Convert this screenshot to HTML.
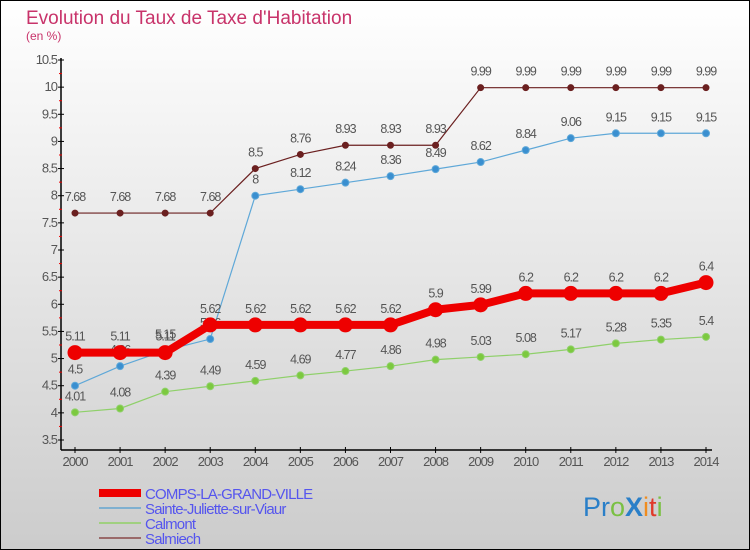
<!DOCTYPE html>
<html><head><meta charset="utf-8"><style>
body{margin:0;width:750px;height:550px;overflow:hidden;font-family:"Liberation Sans",sans-serif}
svg{display:block}
</style></head><body>
<svg id="c" width="750" height="550">
<defs><linearGradient id="bg" x1="0" y1="0" x2="0" y2="1"><stop offset="0" stop-color="#ffffff"/><stop offset="1" stop-color="#cccccc"/></linearGradient></defs>
<rect x="0.5" y="0.5" width="749" height="549" fill="url(#bg)" stroke="#000"/>
<text x="26" y="24" font-size="19" fill="#c8336a">Evolution du Taux de Taxe d'Habitation</text>
<text x="26" y="40" font-size="12" fill="#c8336a">(en %)</text>
<g id="axes"></g>
<g id="series"></g>
<g id="legend"></g>
<text x="583" y="516" font-size="27"><tspan fill="#2a7fc8">Pr</tspan><tspan fill="#7ac043">o</tspan><tspan fill="#2a7fc8" font-weight="bold">X</tspan><tspan fill="#f08c1e">i</tspan><tspan fill="#e03a2a">t</tspan><tspan fill="#7ac043">i</tspan></text>
</svg>
<script>
const years=[2000,2001,2002,2003,2004,2005,2006,2007,2008,2009,2010,2011,2012,2013,2014];
const comps=[5.11,5.11,5.11,5.62,5.62,5.62,5.62,5.62,5.9,5.99,6.2,6.2,6.2,6.2,6.4];
const sainte=[4.5,4.86,5.15,5.36,8,8.12,8.24,8.36,8.49,8.62,8.84,9.06,9.15,9.15,9.15];
const calmont=[4.01,4.08,4.39,4.49,4.59,4.69,4.77,4.86,4.98,5.03,5.08,5.17,5.28,5.35,5.4];
const salmiech=[7.68,7.68,7.68,7.68,8.5,8.76,8.93,8.93,8.93,9.99,9.99,9.99,9.99,9.99,9.99];
const yTicks=[3.5,4,4.5,5,5.5,6,6.5,7,7.5,8,8.5,9,9.5,10,10.5];
const seriesNames=["COMPS-LA-GRAND-VILLE","Sainte-Juliette-sur-Viaur","Calmont","Salmiech"];
const NS="http://www.w3.org/2000/svg";
const X=i=>75+i*(706-75)/(years.length-1);
const Y=v=>440-(v-3.5)*(380/7);
function mk(tag,attrs,parent,txt){const e=document.createElementNS(NS,tag);for(const k in attrs)e.setAttribute(k,attrs[k]);if(txt!==undefined)e.textContent=txt;parent.appendChild(e);return e;}
const ax=document.getElementById('axes');
let yl=mk('line',{x1:61,y1:58,x2:61,y2:450,stroke:'#000','stroke-width':1.5},ax);


let xl=mk('line',{x1:61,y1:450,x2:712,y2:450,stroke:'#000','stroke-width':1.5},ax);


yTicks.forEach((t,i)=>{
  mk('line',{x1:58,y1:Y(t),x2:64,y2:Y(t),stroke:'#000'},ax);
  if(i<yTicks.length-1)mk('line',{x1:59,y1:Y(t+0.25),x2:62,y2:Y(t+0.25),stroke:'#e00'},ax);
  const l=mk('text',{x:57,y:Y(t)+4,'font-size':13,fill:'#555','text-anchor':'end','letter-spacing':'-1'},ax,String(t));
  
  
});
years.forEach((yr,i)=>{
  mk('line',{x1:X(i),y1:447,x2:X(i),y2:453,stroke:'#000'},ax);
  const l=mk('text',{x:X(i),y:466,'font-size':13,fill:'#555','text-anchor':'middle','letter-spacing':'-1'},ax,String(yr));
  
  
});
const sg=document.getElementById('series');
function drawSeries(vals,color,dot,w,r,name){
  const g=mk('g',{},sg);
  
  
  mk('polyline',{points:vals.map((v,i)=>X(i)+','+Y(v)).join(' '),fill:'none',stroke:color,'stroke-width':w},g);
  vals.forEach((v,i)=>{
    const c=mk('circle',{cx:X(i),cy:Y(v),r:r,fill:dot,stroke:color,'stroke-width':1},g);
    
    
    mk('text',{x:X(i),y:Y(v)-12,'font-size':12.5,fill:'#555','text-anchor':'middle','letter-spacing':'-1'},g,String(v));
  });
}
drawSeries(salmiech,'#6b2020','#6b2020',1.2,3,'series-salmiech');
drawSeries(calmont,'#8fd06a','#7cc93f',1.2,3.5,'series-calmont');
drawSeries(sainte,'#5fa8d8','#3a8fd0',1.2,3.5,'series-sainte-juliette');
drawSeries(comps,'#ee0000','#ee0000',8,7,'series-comps-la-grand-ville');
const lg=document.getElementById('legend');
const lc=['#ee0000','#7fb0d0','#a0d080','#9a6a6a'],lw=[8,2,2,2];
seriesNames.forEach((n,i)=>{
  const y=493+i*15;
  const e=mk('g',{},lg);
  
  
  mk('line',{x1:99,y1:y,x2:141,y2:y,stroke:lc[i],'stroke-width':lw[i]},e);
  mk('text',{x:145,y:y+6,'font-size':15,fill:'#5555ee','letter-spacing':'-0.8'},e,n);
});
</script>
</body></html>
